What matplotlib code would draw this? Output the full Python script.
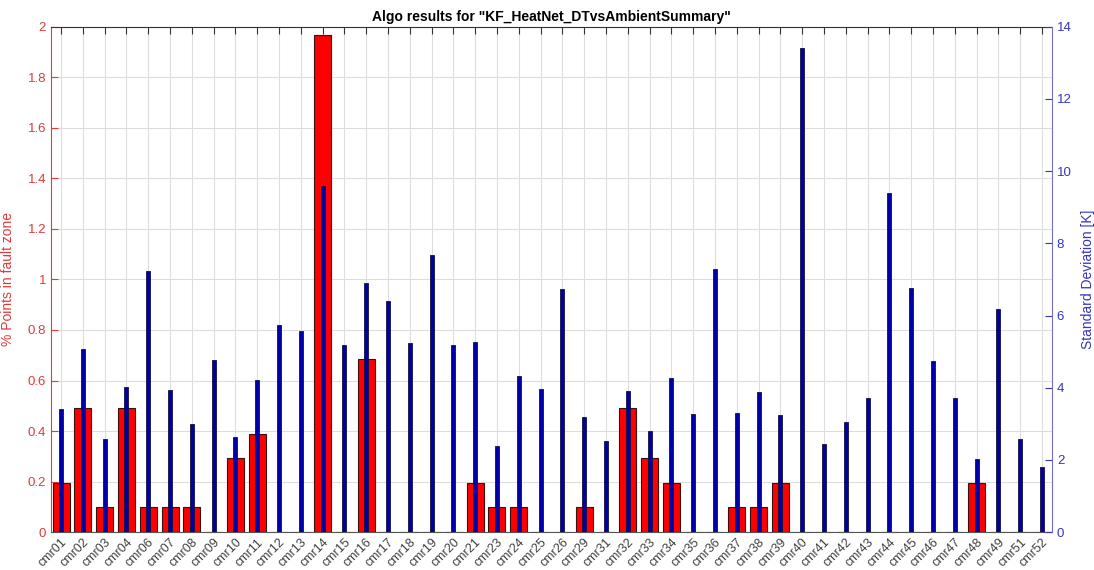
import numpy as np
import matplotlib.pyplot as plt
from matplotlib.ticker import FuncFormatter

plt.rcParams['font.family'] = ['Liberation Sans', 'DejaVu Sans']

stations = ["cmr01", "cmr02", "cmr03", "cmr04", "cmr06", "cmr07", "cmr08", "cmr09",
            "cmr10", "cmr11", "cmr12", "cmr13", "cmr14", "cmr15", "cmr16", "cmr17",
            "cmr18", "cmr19", "cmr20", "cmr21", "cmr23", "cmr24", "cmr25", "cmr26",
            "cmr29", "cmr31", "cmr32", "cmr33", "cmr34", "cmr35", "cmr36", "cmr37",
            "cmr38", "cmr39", "cmr40", "cmr41", "cmr42", "cmr43", "cmr44", "cmr45",
            "cmr46", "cmr47", "cmr48", "cmr49", "cmr51", "cmr52"]

# share of points in the fault zone [%]
fault_pct = [0.195, 0.49, 0.098, 0.49, 0.098, 0.098, 0.098, 0.0,
             0.293, 0.39, 0.0, 0.0, 1.966, 0.0, 0.687, 0.0,
             0.0, 0.0, 0.0, 0.195, 0.098, 0.098, 0.0, 0.0,
             0.098, 0.0, 0.49, 0.293, 0.195, 0.0, 0.0, 0.098,
             0.098, 0.195, 0.0, 0.0, 0.0, 0.0, 0.0, 0.0,
             0.0, 0.0, 0.195, 0.0, 0.0, 0.0]

# standard deviation of DT vs ambient [K]
std_dev = [3.40, 5.08, 2.59, 4.01, 7.22, 3.94, 3.00, 4.76,
           2.65, 4.22, 5.75, 5.57, 9.58, 5.18, 6.91, 6.40,
           5.24, 7.68, 5.18, 5.28, 2.40, 4.32, 3.96, 6.73,
           3.20, 2.53, 3.90, 2.81, 4.27, 3.27, 7.30, 3.29,
           3.88, 3.24, 13.40, 2.45, 3.05, 3.72, 9.40, 6.76,
           4.73, 3.72, 2.02, 6.17, 2.58, 1.81]

red_txt = '#e23a3a'
blue_txt = '#3535c0'

x = np.arange(1, len(stations) + 1)

fig = plt.figure(figsize=(10.94, 5.70), dpi=100)
ax = fig.add_axes([0.0466, 0.0663, 0.9150, 0.8869])
ax2 = ax.twinx()

ax.bar(x, fault_pct, width=0.78, color='#ff0000', edgecolor='#3a1010',
       linewidth=0.8, zorder=3)
ax2.bar(x, std_dev, width=0.18, color='#0000a8', edgecolor='#101040',
        linewidth=0.6, zorder=3)

ax.set_xlim(0.54, len(stations) + 0.46)
ax.set_ylim(0, 2)
ax2.set_ylim(0, 14)

ax.set_xticks(x)
ax.set_xticklabels(stations, rotation=45, ha='right', rotation_mode='anchor',
                   fontsize=9, color='#404040')
ax.set_yticks(np.arange(0, 2.01, 0.2))
ax.yaxis.set_major_formatter(FuncFormatter(lambda v, p: f"{v:g}"))
ax2.set_yticks(np.arange(0, 15, 2))

ax.grid(True, color='#dddddd', linewidth=0.8, zorder=0)
ax.set_axisbelow(True)

ax.tick_params(axis='x', direction='in', top=True, length=5, width=0.8,
               color='#333333', pad=3)
ax.tick_params(axis='y', direction='in', length=5, colors=red_txt, labelsize=9.5)
ax2.tick_params(axis='y', direction='in', length=5, colors=blue_txt, labelsize=9.5)

ax.spines['left'].set_color(red_txt)
ax.spines['right'].set_visible(False)
ax.spines['top'].set_color('#333333')
ax.spines['bottom'].set_color('#555555')
ax2.spines['right'].set_color('#7070cc')
for side in ('left', 'top', 'bottom'):
    ax2.spines[side].set_visible(False)

ax.set_ylabel("% Points in fault zone", color=red_txt, fontsize=10)
ax.yaxis.set_label_coords(-0.036, 0.5)
ax2.set_ylabel("Standard Deviation [K]", color=blue_txt, fontsize=10)
ax2.yaxis.set_label_coords(1.029, 0.5)
ax.set_title('Algo results for "KF_HeatNet_DTvsAmbientSummary"',
             fontsize=10, fontweight='bold', pad=4)

plt.savefig("out.png", dpi=100)
plt.close()
